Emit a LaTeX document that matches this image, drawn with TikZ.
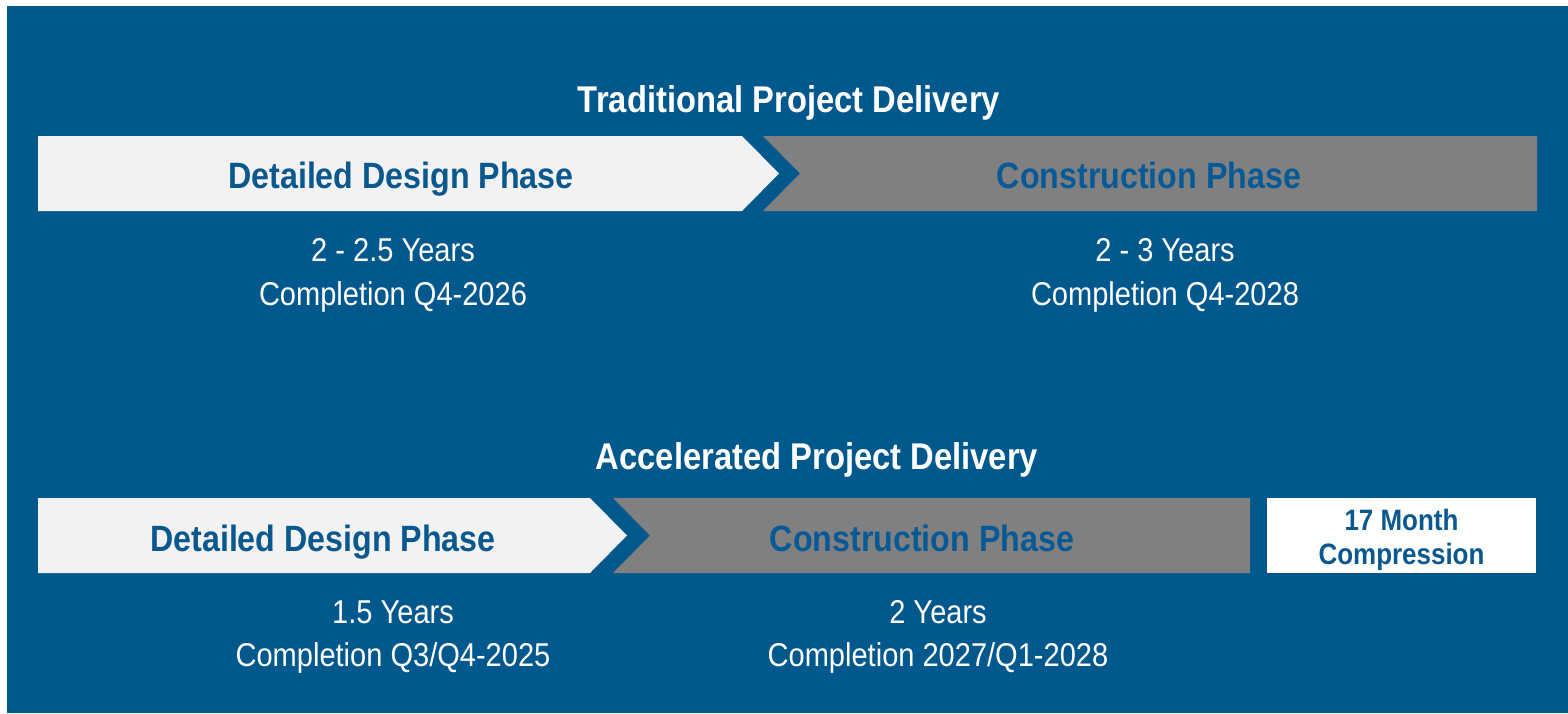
\documentclass[tikz,border=0pt]{standalone}
\usepackage{fontspec}
\setmainfont{Liberation Sans}[FakeStretch=0.88]
\definecolor{bgblue}{RGB}{0,88,140}
\definecolor{txtblue}{RGB}{10,88,142}
\definecolor{contxt}{RGB}{8,90,150}
\definecolor{lightbox}{RGB}{242,242,242}
\definecolor{graybox}{RGB}{128,128,128}
\tikzset{
  title/.style={text=white, font=\fontsize{37.2}{40}\selectfont\bfseries, anchor=base, inner sep=0pt},
  phaselabel/.style={font=\fontsize{36.6}{40}\selectfont\bfseries, anchor=base, inner sep=0pt},
  info/.style={text=white, font=\fontsize{33}{36}\selectfont, anchor=base, inner sep=0pt},
  compr/.style={text=txtblue, font=\fontsize{29.5}{33}\selectfont\bfseries, anchor=base, inner sep=0pt},
}
\begin{document}
\begin{tikzpicture}[x=1pt,y=-1pt]
\useasboundingbox (0,0) rectangle (1568,713);
\fill[white] (0,0) rectangle (1568,713);
\fill[bgblue] (7,6) rectangle (1568,713);
% top row
\fill[lightbox] (38,136) -- (742,136) -- (779,173.5) -- (742,211) -- (38,211) -- cycle;
\fill[graybox] (763,136) -- (1537,136) -- (1537,211) -- (763,211) -- (800,173.5) -- cycle;
% bottom row
\fill[lightbox] (38,498) -- (590,498) -- (627,535.5) -- (590,573) -- (38,573) -- cycle;
\fill[graybox] (613,498) -- (1250,498) -- (1250,573) -- (613,573) -- (650,535.5) -- cycle;
\fill[white] (1267,498) rectangle (1536,573);
% titles
\node[title] (t1) at (789,112) {Traditional Project Delivery};
\node[title] (t2) at (817,469) {Accelerated Project Delivery};
% phase labels
\node[phaselabel, text=txtblue] (d1) at (401,188) {Detailed Design Phase};
\node[phaselabel, text=contxt] (c1) at (1149,188) {Construction Phase};
\node[phaselabel, text=txtblue] (d2) at (323,551) {Detailed Design Phase};
\node[phaselabel, text=contxt] (c2) at (922,551) {Construction Phase};
% info texts
\node[info] (d1a) at (393,261.5) {2 - 2.5 Years};
\node[info] (d1b) at (393,305) {Completion Q4-2026};
\node[info] (c1a) at (1165,261.5) {2 - 3 Years};
\node[info] (c1b) at (1165,305) {Completion Q4-2028};
\node[info] (d2a) at (393,623) {1.5 Years};
\node[info] (d2b) at (393,666) {Completion Q3/Q4-2025};
\node[info] (c2a) at (938,623) {2 Years};
\node[info] (c2b) at (938,666) {Completion 2027/Q1-2028};
% compression box
\node[compr] (m1) at (1401.5,530) {17 Month};
\node[compr] (m2) at (1401.5,564.5) {Compression};
\end{tikzpicture}
\end{document}
